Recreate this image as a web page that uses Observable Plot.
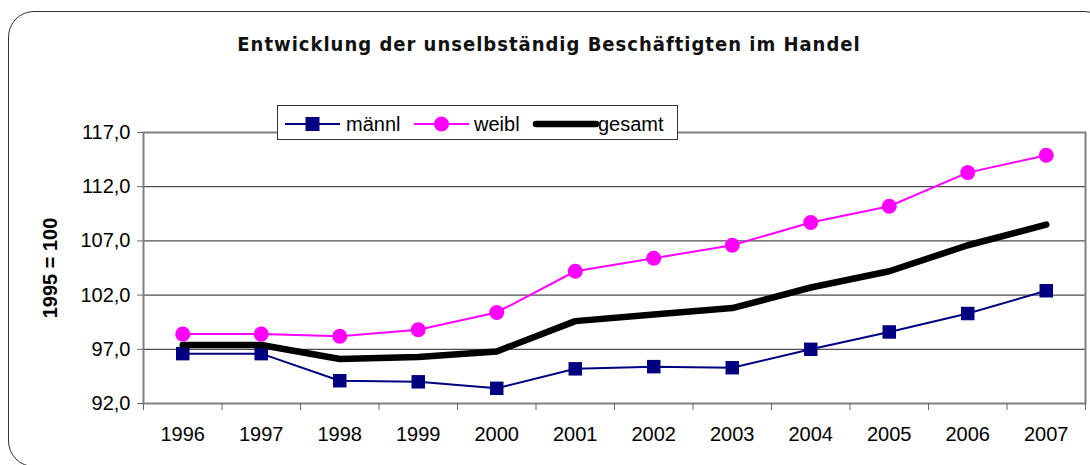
<!DOCTYPE html>
<html>
<head>
<meta charset="utf-8">
<script src="https://cdn.jsdelivr.net/npm/d3@7"></script>
<script src="https://cdn.jsdelivr.net/npm/@observablehq/plot@0.6"></script>
<style>
  html, body { margin: 0; padding: 0; background: #fff; }
  #wrap { position: relative; width: 1090px; height: 465px; overflow: hidden; }
  #frame { position: absolute; left: 8px; top: 11px; width: 1102px; height: 456px;
           border: 1.5px solid #333; border-radius: 26px; box-sizing: border-box; }
  #title { position: absolute; left: 0; width: 1098px; top: 32px; text-align: center;
           font-family: "DejaVu Sans Condensed", "DejaVu Sans", sans-serif; font-weight: bold;
           font-size: 20px; letter-spacing: 1px; color: #111; }
  #chart { position: absolute; left: 0; top: 0; }
  #legend { position: absolute; left: 277px; top: 105px; width: 401px; height: 35px;
            border: 1px solid #333; background: #fff; box-sizing: border-box; }
</style>
</head>
<body>
<div id="wrap">
  <div id="frame"></div>
  <div id="chart"></div>
  <div id="title"></div>
  <div id="legend"></div>
</div>
<script>
const titleText = "Entwicklung der unselbständig Beschäftigten im Handel";
const yLabel = "1995 = 100";
const years = [1996, 1997, 1998, 1999, 2000, 2001, 2002, 2003, 2004, 2005, 2006, 2007];
const maennl = [96.6, 96.6, 94.1, 94.0, 93.4, 95.2, 95.4, 95.3, 97.0, 98.6, 100.3, 102.4];
const weibl = [98.4, 98.4, 98.2, 98.8, 100.4, 104.2, 105.4, 106.6, 108.7, 110.2, 113.3, 114.9];
const gesamt = [97.4, 97.4, 96.1, 96.3, 96.8, 99.6, 100.2, 100.8, 102.7, 104.2, 106.6, 108.5];
const yTicks = [92, 97, 102, 107, 112, 117];
const seriesNames = ["männl", "weibl", "gesamt"];
const seriesColors = ["#000080", "#FF00FF", "#000000"];

const toRows = (vals) => years.map((yr, i) => ({year: yr, value: vals[i]}));
const rowsM = toRows(maennl), rowsW = toRows(weibl), rowsG = toRows(gesamt);
const bounds = years.map(y => y - 0.5).concat([years[years.length - 1] + 0.5]);
const fmt = d => d.toFixed(1).replace(".", ",");

document.getElementById("title").textContent = titleText;

const chart = Plot.plot({
  width: 1090, height: 465,
  marginLeft: 143, marginRight: 5, marginTop: 132, marginBottom: 62,
  x: {domain: [bounds[0], bounds[bounds.length - 1]]},
  y: {domain: [yTicks[0], yTicks[yTicks.length - 1]]},
  style: {fontFamily: "'Liberation Sans', Arial, sans-serif", fontSize: "20px", background: "transparent", color: "#000"},
  marks: [
    Plot.ruleY(yTicks.slice(1, -1), {stroke: "#222", strokeWidth: 1}),
    Plot.frame({stroke: "#808080", strokeWidth: 2}),
    Plot.axisY({ticks: yTicks, tickFormat: fmt, tickSize: 6, tickPadding: 7, fontSize: 20,
                stroke: "#666", fill: "#000", label: yLabel, labelArrow: "none", labelAnchor: "center", labelOffset: 101}),
    Plot.axisX({ticks: bounds, tickSize: 7, tickFormat: () => "", stroke: "#666", label: null}),
    Plot.axisX({ticks: years, tickSize: 0, tickPadding: 23, tickFormat: d => String(d), fontSize: 20, fill: "#000", label: null}),
    Plot.line(rowsM, {x: "year", y: "value", stroke: seriesColors[0], strokeWidth: 2}),
    Plot.dot(rowsM, {x: "year", y: "value", symbol: "square", r: 7.6, fill: seriesColors[0], stroke: "none"}),
    Plot.line(rowsW, {x: "year", y: "value", stroke: seriesColors[1], strokeWidth: 2}),
    Plot.dot(rowsW, {x: "year", y: "value", symbol: "circle", r: 7.5, fill: seriesColors[1], stroke: "none"}),
    Plot.line(rowsG, {x: "year", y: "value", stroke: seriesColors[2], strokeWidth: 6.5, strokeLinejoin: "round", strokeLinecap: "round"})
  ]
});
document.getElementById("chart").appendChild(chart);

// y label: bold, no arrow
chart.querySelectorAll("g[aria-label='y-axis label'] text").forEach(t => {
  t.setAttribute("font-weight", "bold");
  t.textContent = yLabel;
});

// legend
const legendSvg = d3.select("#legend").append("svg").attr("width", 399).attr("height", 33)
  .style("font-family", "'Liberation Sans', Arial, sans-serif").style("font-size", "20px");
const items = [
  {x0: 7, x1: 62, mark: "square", tx: 68},
  {x0: 136, x1: 191, mark: "circle", tx: 196},
  {x0: 258, x1: 318, mark: "none", tx: 320}
];
items.forEach((it, i) => {
  const cy = 18;
  legendSvg.append("line").attr("x1", it.x0).attr("x2", it.x1).attr("y1", cy).attr("y2", cy)
    .attr("stroke", seriesColors[i]).attr("stroke-width", i === 2 ? 6.5 : 2)
    .attr("stroke-linecap", i === 2 ? "round" : "butt");
  const cx = (it.x0 + it.x1) / 2;
  if (it.mark === "square") legendSvg.append("rect").attr("x", cx - 7).attr("y", cy - 7).attr("width", 14).attr("height", 14).attr("fill", seriesColors[i]);
  if (it.mark === "circle") legendSvg.append("circle").attr("cx", cx).attr("cy", cy).attr("r", 7.5).attr("fill", seriesColors[i]);
  legendSvg.append("text").attr("x", it.tx).attr("y", cy + 7).text(seriesNames[i]);
});
</script>
</body>
</html>
